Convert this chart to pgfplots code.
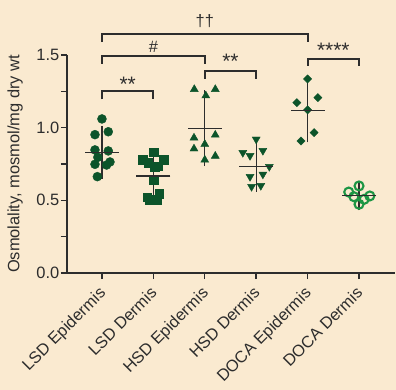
\documentclass[border=0pt]{standalone}
\usepackage{pgfplots}
\pgfplotsset{compat=1.18}
\usepackage{fontspec}
\setmainfont{Liberation Sans}
\definecolor{bg}{RGB}{250,234,208}
\definecolor{dg}{RGB}{12,84,42}
\definecolor{lg}{RGB}{28,150,68}
\definecolor{ax}{RGB}{45,45,45}
\begin{document}
\begin{tikzpicture}
\fill[bg] (-67bp,-117bp) rectangle (329bp,273bp);
\begin{axis}[
  at={(0,0)}, anchor=south west,
  width=328bp, height=218bp, scale only axis,
  xmin=-0.68, xmax=5.70, ymin=0, ymax=1.5,
  clip=false,
  axis lines=left,
  axis line style={ax, line width=1.4bp, -},
  font=\fontsize{16.5}{19}\selectfont,
  every tick label/.append style={text=ax},
  /pgf/number format/assume math mode=true,
  ytick={0,0.5,1,1.5}, minor ytick={0.25,0.75,1.25},
  yticklabel style={/pgf/number format/fixed, /pgf/number format/fixed zerofill, /pgf/number format/precision=1, inner sep=1.5bp},
  xtick={0,1,2,3,4,5},
  xticklabels={LSD Epidermis, LSD Dermis, HSD Epidermis, HSD Dermis, DOCA Epidermis, DOCA Dermis},
  xticklabel style={xshift=-4bp, yshift=-5bp, rotate=45, anchor=north east, inner sep=1bp},
  tick align=outside,
  major tick length=6bp, minor tick length=6bp,
  every tick/.style={ax, line width=1.4bp},
  ylabel={Osmolality, mosmol/mg dry wt},
  ylabel style={at={(axis description cs:-0.158,0.5)}, anchor=center, text=ax},
]
% data points
\addplot[only marks, mark=*, mark size=4.5bp, color=dg] coordinates {
 (0.0,1.060) (-0.136,0.952) (0.123,0.972) (-0.136,0.847) (0.123,0.840)
 (-0.08,0.796) (-0.136,0.748) (0.156,0.764) (0.09,0.743) (-0.09,0.663)};
\addplot[only marks, mark=square*, mark size=4.4bp, color=dg] coordinates {
 (1.0,0.831) (0.79,0.782) (1.206,0.778) (0.90,0.759) (1.03,0.732) (1.09,0.735)
 (1.0,0.640) (0.88,0.521) (1.115,0.548) (0.935,0.502) (1.076,0.502)};
\addplot[only marks, mark=triangle*, mark size=4.6bp, color=dg] coordinates {
 (1.796,1.264) (2.02,1.220) (2.204,1.264) (2.204,0.950) (1.79,0.930)
 (2.0,0.886) (1.79,0.855) (2.204,0.805) (2.0,0.778)};
\addplot[only marks, mark=triangle*, mark size=4.6bp, color=dg, mark options={rotate=180}] coordinates {
 (3.0,0.920) (2.74,0.828) (2.88,0.807) (3.13,0.842) (3.255,0.732)
 (2.88,0.663) (3.13,0.679) (2.91,0.594) (3.09,0.601)};
\addplot[only marks, mark=square*, mark size=2.9bp, color=dg, mark options={rotate=45}] coordinates {
 (4.0,1.335) (3.79,1.172) (4.2,1.207) (4.0,1.122) (4.125,0.966) (3.87,0.908)};
\addplot[only marks, mark=o, mark size=4.5bp, color=lg, mark options={line width=2.1bp}] coordinates {
 (5.0,0.599) (4.8,0.557) (4.9,0.525) (5.21,0.530) (5.1,0.507) (5.0,0.473)};
% mean and SD
\addplot[only marks, mark=-, mark size=17bp, mark options={ax, line width=1.2bp},
  error bars/.cd, y dir=both, y explicit,
  error bar style={ax, line width=1.2bp},
  error mark options={ax, line width=1.2bp, mark size=9bp}] coordinates {
 (0,0.830) +- (0,0.120)
 (1,0.668) +- (0,0.128)
 (2,0.997) +- (0,0.200)
 (3,0.735) +- (0,0.115)
 (4,1.117) +- (0,0.157)
 (5,0.532) +- (0,0.040)};
% significance brackets
\addplot[ax, line width=1.8bp] coordinates {(0,1.195) (0,1.250) (1,1.250) (1,1.195)};
\addplot[ax, line width=1.8bp] coordinates {(2,1.335) (2,1.392) (3,1.392) (3,1.335)};
\addplot[ax, line width=1.8bp] coordinates {(0,1.440) (0,1.493) (2,1.493) (2,1.440)};
\addplot[ax, line width=1.8bp] coordinates {(0,1.588) (0,1.647) (4,1.647) (4,1.588)};
\addplot[ax, line width=1.8bp] coordinates {(4,1.425) (4,1.475) (5,1.475) (5,1.425)};
\node[text=ax, anchor=base, inner sep=0pt, font=\fontsize{21}{24}\selectfont] at (axis cs:0.5,1.250) {**};
\node[text=ax, anchor=base, inner sep=0pt, font=\fontsize{21}{24}\selectfont] at (axis cs:2.5,1.410) {**};
\node[text=ax, anchor=base, inner sep=0pt] at (axis cs:1.0,1.519) {\#};
\node[text=ax, anchor=base, inner sep=0pt] at (axis cs:2.0,1.693) {††};
\node[text=ax, anchor=base, inner sep=0pt, font=\fontsize{21}{24}\selectfont] at (axis cs:4.5,1.484) {****};
\end{axis}
\end{tikzpicture}
\end{document}
